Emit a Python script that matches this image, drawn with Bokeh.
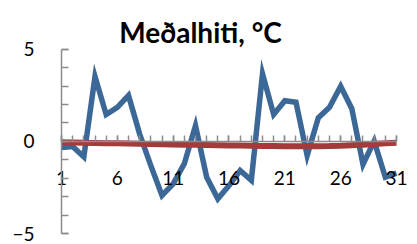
from bokeh.plotting import figure
from bokeh.models import Range1d, FixedTicker, Label
from bokeh.embed import file_html
from bokeh.resources import INLINE

days = list(range(1, 32))
medalhiti = [-0.32, -0.27, -0.83, 3.51, 1.46, 1.85, 2.49, 0.4, -1.3, -2.92,
             -2.29, -1.2, 0.86, -1.93, -3.1, -2.38, -1.57, -2.1, 3.66, 1.46,
             2.2, 2.12, -0.76, 1.28, 1.85, 2.99, 1.77, -1.24, 0.02, -1.93, -1.71]
trend = [-0.04, -0.05, -0.07, -0.08, -0.09, -0.10, -0.11, -0.12, -0.14, -0.15,
         -0.16, -0.17, -0.18, -0.19, -0.20, -0.21, -0.22, -0.23, -0.24, -0.25,
         -0.26, -0.26, -0.26, -0.26, -0.25, -0.23, -0.20, -0.17, -0.14, -0.10, -0.07]
x_tick_labels = [1, 6, 11, 16, 21, 26, 31]
y_tick_labels = [-5, 0, 5]
title_text = "Meðalhiti, °C"

FONT = "Lato"

p = figure(width=417, height=244, output_backend="svg", toolbar_location=None,
           x_range=Range1d(-4.463, 32.881), y_range=Range1d(-5.568, 7.622),
           min_border_left=0, min_border_right=0, min_border_top=0, min_border_bottom=0)
p.outline_line_color = None
p.xgrid.visible = False
p.ygrid.visible = False

for ax in (p.xaxis[0], p.yaxis[0]):
    ax.axis_line_color = "#8C8C8C"
    ax.axis_line_width = 1.5
    ax.major_tick_line_color = "#8C8C8C"
    ax.minor_tick_line_color = "#8C8C8C"
    ax.major_tick_line_width = 1.5
    ax.minor_tick_line_width = 1.5
    ax.major_tick_out = 0
    ax.minor_tick_out = 0
    ax.major_label_text_font = FONT
    ax.major_label_text_font_size = "19px"
    ax.major_label_text_color = "#000000"

xa = p.xaxis[0]
xa.fixed_location = 0
xa.bounds = (1, 31)
xa.ticker = FixedTicker(ticks=x_tick_labels, minor_ticks=days)
xa.major_tick_in = 6
xa.minor_tick_in = 6
xa.major_label_standoff = 30

ya = p.yaxis[0]
ya.fixed_location = 1
ya.bounds = (-5, 5)
ya.ticker = FixedTicker(ticks=y_tick_labels, minor_ticks=list(range(-5, 6)))
ya.major_tick_in = 7
ya.minor_tick_in = 7
ya.major_label_standoff = 27

p.line(days, medalhiti, line_color="#3C6898", line_width=5.5, line_join="miter")
p.line(days, trend, line_color="#A23B39", line_width=6)

p.add_layout(Label(x=13.45, y=5.91, text=title_text, text_align="center",
                   text_baseline="alphabetic", text_font=FONT,
                   text_font_style="bold", text_font_size="28px",
                   text_color="#000000"))

open("out.html", "w").write(file_html(p, INLINE))
